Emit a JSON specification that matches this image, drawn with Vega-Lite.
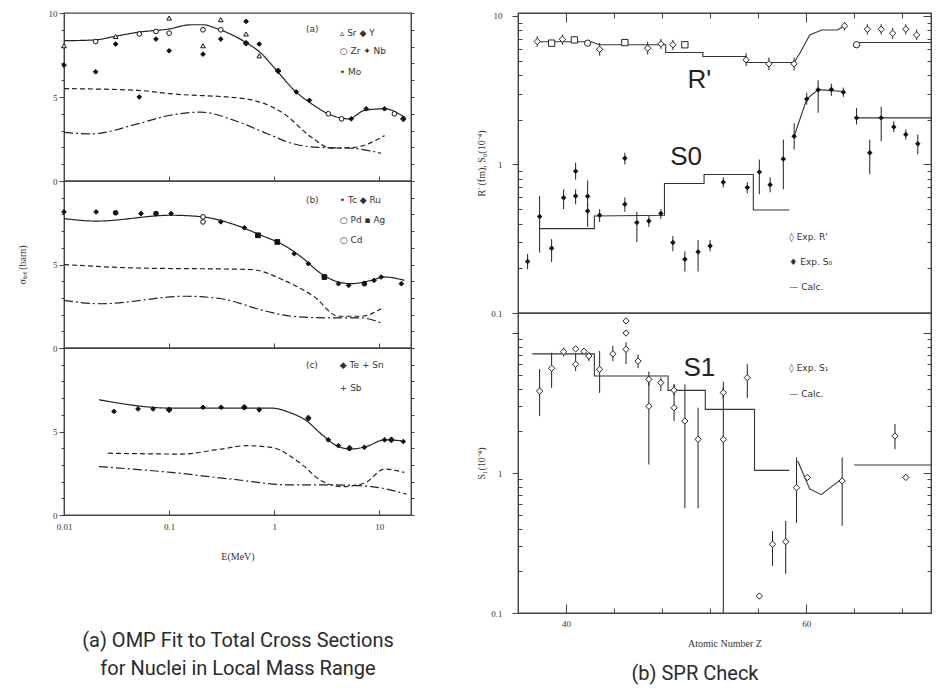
{
"$schema": "https://vega.github.io/schema/vega-lite/v6.json",
"background": "white",
"padding": {"left": 16, "top": 8, "right": 5, "bottom": 2},
"config": {
  "view": {"stroke": "#444", "strokeWidth": 1.3},
  "axis": {"labelFont": "Liberation Serif", "labelFontSize": 9, "labelColor": "#333", "titleFont": "Liberation Serif", "titleFontSize": 10, "titleFontWeight": "normal", "titleColor": "#333", "domainColor": "#444", "tickColor": "#444", "grid": false, "labelPadding": 2, "labelOverlap": false, "labelFlush": false},
  "title": {"font": "Roboto", "fontWeight": "normal", "color": "#2a2a2a"}
},
"spacing": 60,
"datasets": {
"A": [
{"p":"a","k":"c","sr":"t","E":0.01,"s":8.35},{"p":"a","k":"c","sr":"t","E":0.02,"s":8.4},{"p":"a","k":"c","sr":"t","E":0.03,"s":8.6},{"p":"a","k":"c","sr":"t","E":0.05,"s":8.85},{"p":"a","k":"c","sr":"t","E":0.1,"s":9.05},{"p":"a","k":"c","sr":"t","E":0.16,"s":9.3},{"p":"a","k":"c","sr":"t","E":0.21,"s":9.3},{"p":"a","k":"c","sr":"t","E":0.29,"s":9.05},{"p":"a","k":"c","sr":"t","E":0.52,"s":8.3},{"p":"a","k":"c","sr":"t","E":0.75,"s":7.6},{"p":"a","k":"c","sr":"t","E":1.0,"s":6.75},{"p":"a","k":"c","sr":"t","E":1.55,"s":5.4},{"p":"a","k":"c","sr":"t","E":2.26,"s":4.6},{"p":"a","k":"c","sr":"t","E":3.27,"s":4.0},{"p":"a","k":"c","sr":"t","E":5.1,"s":3.7},{"p":"a","k":"c","sr":"t","E":7.2,"s":4.2},{"p":"a","k":"c","sr":"t","E":11.2,"s":4.3},{"p":"a","k":"c","sr":"t","E":17.3,"s":3.8},
{"p":"a","k":"c","sr":"d","E":0.01,"s":5.5},{"p":"a","k":"c","sr":"d","E":0.05,"s":5.4},{"p":"a","k":"c","sr":"d","E":0.1,"s":5.2},{"p":"a","k":"c","sr":"d","E":0.52,"s":4.9},{"p":"a","k":"c","sr":"d","E":1.24,"s":4.0},{"p":"a","k":"c","sr":"d","E":2.26,"s":2.6},{"p":"a","k":"c","sr":"d","E":3.5,"s":1.95},{"p":"a","k":"c","sr":"d","E":5.8,"s":2.0},{"p":"a","k":"c","sr":"d","E":11.2,"s":2.7},
{"p":"a","k":"c","sr":"dd","E":0.01,"s":2.9},{"p":"a","k":"c","sr":"dd","E":0.018,"s":2.8},{"p":"a","k":"c","sr":"dd","E":0.05,"s":3.4},{"p":"a","k":"c","sr":"dd","E":0.1,"s":3.9},{"p":"a","k":"c","sr":"dd","E":0.2,"s":4.1},{"p":"a","k":"c","sr":"dd","E":0.42,"s":3.6},{"p":"a","k":"c","sr":"dd","E":0.87,"s":2.8},{"p":"a","k":"c","sr":"dd","E":1.55,"s":2.2},{"p":"a","k":"c","sr":"dd","E":2.64,"s":2.0},{"p":"a","k":"c","sr":"dd","E":5.4,"s":1.95},{"p":"a","k":"c","sr":"dd","E":10.4,"s":1.65},
{"p":"a","k":"p","n":"Y","f":"b","E":0.01,"s":6.9},{"p":"a","k":"p","n":"Sr","f":"o","E":0.01,"s":8.05},{"p":"a","k":"p","n":"Y","f":"b","E":0.02,"s":6.5},{"p":"a","k":"p","n":"Zr","f":"o","E":0.02,"s":8.3},{"p":"a","k":"p","n":"Sr","f":"o","E":0.031,"s":8.6},{"p":"a","k":"p","n":"Y","f":"b","E":0.031,"s":8.15},{"p":"a","k":"p","n":"Zr","f":"o","E":0.052,"s":8.75},{"p":"a","k":"p","n":"Y","f":"b","E":0.052,"s":5.0},{"p":"a","k":"p","n":"Zr","f":"o","E":0.075,"s":8.9},{"p":"a","k":"p","n":"Y","f":"b","E":0.075,"s":8.45},{"p":"a","k":"p","n":"Zr","f":"o","E":0.1,"s":8.8},{"p":"a","k":"p","n":"Y","f":"b","E":0.1,"s":7.75},{"p":"a","k":"p","n":"Sr","f":"o","E":0.1,"s":9.7},{"p":"a","k":"p","n":"Zr","f":"o","E":0.21,"s":9.0},{"p":"a","k":"p","n":"Y","f":"b","E":0.21,"s":7.55},{"p":"a","k":"p","n":"Sr","f":"o","E":0.21,"s":8.05},{"p":"a","k":"p","n":"Zr","f":"o","E":0.31,"s":9.0},{"p":"a","k":"p","n":"Y","f":"b","E":0.31,"s":8.45},{"p":"a","k":"p","n":"Sr","f":"o","E":0.31,"s":9.6},{"p":"a","k":"p","n":"Y","f":"b","E":0.54,"s":9.5},{"p":"a","k":"p","n":"Sr","f":"o","E":0.54,"s":8.75},{"p":"a","k":"p","n":"Nb","f":"b","E":0.54,"s":8.2},{"p":"a","k":"p","n":"Y","f":"b","E":0.72,"s":8.15},{"p":"a","k":"p","n":"Sr","f":"o","E":0.72,"s":7.45},{"p":"a","k":"p","n":"Nb","f":"b","E":1.09,"s":6.55},{"p":"a","k":"p","n":"Y","f":"b","E":1.62,"s":5.3},{"p":"a","k":"p","n":"Y","f":"b","E":2.16,"s":4.8},{"p":"a","k":"p","n":"Zr","f":"o","E":3.27,"s":4.0},{"p":"a","k":"p","n":"Zr","f":"o","E":4.37,"s":3.7},{"p":"a","k":"p","n":"Y","f":"b","E":5.4,"s":3.7},{"p":"a","k":"p","n":"Y","f":"b","E":7.5,"s":4.3},{"p":"a","k":"p","n":"Y","f":"b","E":11.2,"s":4.3},{"p":"a","k":"p","n":"Zr","f":"o","E":13.9,"s":4.0},{"p":"a","k":"p","n":"Nb","f":"b","E":16.9,"s":3.7},
{"p":"a","k":"l","E":2.0,"s":9.05,"txt":"(a)"},{"p":"a","k":"l","E":4.2,"s":8.8,"txt":"▵ Sr   ◆ Y"},{"p":"a","k":"l","E":4.2,"s":7.75,"txt":"○ Zr   ✦ Nb"},{"p":"a","k":"l","E":4.2,"s":6.5,"txt":"• Mo"},
{"p":"b","k":"c","sr":"t","E":0.01,"s":7.75},{"p":"b","k":"c","sr":"t","E":0.0202,"s":7.6},{"p":"b","k":"c","sr":"t","E":0.1045,"s":7.95},{"p":"b","k":"c","sr":"t","E":0.21,"s":7.85},{"p":"b","k":"c","sr":"t","E":0.39,"s":7.45},{"p":"b","k":"c","sr":"t","E":0.75,"s":6.75},{"p":"b","k":"c","sr":"t","E":1.24,"s":6.15},{"p":"b","k":"c","sr":"t","E":1.81,"s":5.45},{"p":"b","k":"c","sr":"t","E":2.8,"s":4.45},{"p":"b","k":"c","sr":"t","E":4.08,"s":3.95},{"p":"b","k":"c","sr":"t","E":5.4,"s":3.85},{"p":"b","k":"c","sr":"t","E":8.4,"s":4.05},{"p":"b","k":"c","sr":"t","E":11.2,"s":4.25},{"p":"b","k":"c","sr":"t","E":17.3,"s":4.05},
{"p":"b","k":"c","sr":"d","E":0.01,"s":5.0},{"p":"b","k":"c","sr":"d","E":0.043,"s":4.8},{"p":"b","k":"c","sr":"d","E":0.6,"s":4.7},{"p":"b","k":"c","sr":"d","E":1.24,"s":4.05},{"p":"b","k":"c","sr":"d","E":2.42,"s":3.05},{"p":"b","k":"c","sr":"d","E":4.08,"s":1.9},{"p":"b","k":"c","sr":"d","E":6.7,"s":1.9},{"p":"b","k":"c","sr":"d","E":10.4,"s":2.35},
{"p":"b","k":"c","sr":"dd","E":0.01,"s":2.85},{"p":"b","k":"c","sr":"dd","E":0.0225,"s":2.65},{"p":"b","k":"c","sr":"dd","E":0.145,"s":3.1},{"p":"b","k":"c","sr":"dd","E":0.313,"s":2.95},{"p":"b","k":"c","sr":"dd","E":0.84,"s":2.2},{"p":"b","k":"c","sr":"dd","E":1.45,"s":1.9},{"p":"b","k":"c","sr":"dd","E":3.5,"s":1.8},{"p":"b","k":"c","sr":"dd","E":6.7,"s":1.8},{"p":"b","k":"c","sr":"dd","E":10.4,"s":1.5},
{"p":"b","k":"p","n":"Ru","f":"b","E":0.01,"s":8.15},{"p":"b","k":"p","n":"Ru","f":"b","E":0.0202,"s":8.15},{"p":"b","k":"p","n":"Tc","f":"b","E":0.031,"s":8.1},{"p":"b","k":"p","n":"Ru","f":"b","E":0.054,"s":8.05},{"p":"b","k":"p","n":"Tc","f":"b","E":0.075,"s":8.05},{"p":"b","k":"p","n":"Ru","f":"b","E":0.1045,"s":8.05},{"p":"b","k":"p","n":"Pd","f":"o","E":0.21,"s":7.85},{"p":"b","k":"p","n":"Cd","f":"o","E":0.21,"s":7.55},{"p":"b","k":"p","n":"Ru","f":"b","E":0.31,"s":7.55},{"p":"b","k":"p","n":"Ru","f":"b","E":0.52,"s":7.2},{"p":"b","k":"p","n":"Ag","f":"b","E":0.7,"s":6.75},{"p":"b","k":"p","n":"Ag","f":"b","E":1.07,"s":6.35},{"p":"b","k":"p","n":"Ru","f":"b","E":1.55,"s":5.65},{"p":"b","k":"p","n":"Ru","f":"b","E":2.11,"s":5.05},{"p":"b","k":"p","n":"Ag","f":"b","E":3.0,"s":4.25},{"p":"b","k":"p","n":"Ru","f":"b","E":4.08,"s":3.85},{"p":"b","k":"p","n":"Ru","f":"b","E":5.1,"s":3.75},{"p":"b","k":"p","n":"Tc","f":"b","E":7.2,"s":3.85},{"p":"b","k":"p","n":"Ru","f":"b","E":8.9,"s":4.05},{"p":"b","k":"p","n":"Ru","f":"b","E":10.4,"s":4.25},{"p":"b","k":"p","n":"Ru","f":"b","E":16.2,"s":3.85},
{"p":"b","k":"l","E":2.0,"s":8.85,"txt":"(b)"},{"p":"b","k":"l","E":4.2,"s":8.85,"txt":"• Tc   ◆ Ru"},{"p":"b","k":"l","E":4.2,"s":7.65,"txt":"○ Pd   ▪ Ag"},{"p":"b","k":"l","E":4.2,"s":6.45,"txt":"○ Cd"},
{"p":"c","k":"c","sr":"t","E":0.0215,"s":6.9},{"p":"c","k":"c","sr":"t","E":0.1045,"s":6.4},{"p":"c","k":"c","sr":"t","E":0.935,"s":6.4},{"p":"c","k":"c","sr":"t","E":1.45,"s":6.1},{"p":"c","k":"c","sr":"t","E":2.02,"s":5.65},{"p":"c","k":"c","sr":"t","E":2.8,"s":4.85},{"p":"c","k":"c","sr":"t","E":4.08,"s":4.1},{"p":"c","k":"c","sr":"t","E":5.4,"s":3.95},{"p":"c","k":"c","sr":"t","E":7.5,"s":4.1},{"p":"c","k":"c","sr":"t","E":11.2,"s":4.5},{"p":"c","k":"c","sr":"t","E":16.2,"s":4.45},
{"p":"c","k":"c","sr":"d","E":0.0262,"s":3.7},{"p":"c","k":"c","sr":"d","E":0.13,"s":3.65},{"p":"c","k":"c","sr":"d","E":0.313,"s":3.95},{"p":"c","k":"c","sr":"d","E":0.54,"s":4.15},{"p":"c","k":"c","sr":"d","E":0.935,"s":4.05},{"p":"c","k":"c","sr":"d","E":1.81,"s":3.05},{"p":"c","k":"c","sr":"d","E":2.8,"s":2.05},{"p":"c","k":"c","sr":"d","E":4.37,"s":1.7},{"p":"c","k":"c","sr":"d","E":7.2,"s":1.9},{"p":"c","k":"c","sr":"d","E":11.2,"s":2.75},{"p":"c","k":"c","sr":"d","E":17.3,"s":2.55},
{"p":"c","k":"c","sr":"dd","E":0.0215,"s":2.9},{"p":"c","k":"c","sr":"dd","E":0.1045,"s":2.55},{"p":"c","k":"c","sr":"dd","E":0.389,"s":2.15},{"p":"c","k":"c","sr":"dd","E":1.45,"s":1.8},{"p":"c","k":"c","sr":"dd","E":3.9,"s":1.8},{"p":"c","k":"c","sr":"dd","E":8.4,"s":1.7},{"p":"c","k":"c","sr":"dd","E":18.1,"s":1.25},
{"p":"c","k":"p","n":"Te","f":"b","E":0.0299,"s":6.2},{"p":"c","k":"p","n":"Te","f":"b","E":0.0506,"s":6.35},{"p":"c","k":"p","n":"Te","f":"b","E":0.0703,"s":6.35},{"p":"c","k":"p","n":"Sn","f":"b","E":0.1,"s":6.3},{"p":"c","k":"p","n":"Te","f":"b","E":0.21,"s":6.45},{"p":"c","k":"p","n":"Te","f":"b","E":0.313,"s":6.45},{"p":"c","k":"p","n":"Sb","f":"b","E":0.519,"s":6.45},{"p":"c","k":"p","n":"Te","f":"b","E":0.72,"s":6.3},{"p":"c","k":"p","n":"Sn","f":"b","E":2.11,"s":5.8},{"p":"c","k":"p","n":"Te","f":"b","E":3.27,"s":4.5},{"p":"c","k":"p","n":"Te","f":"b","E":4.08,"s":4.15},{"p":"c","k":"p","n":"Sb","f":"b","E":5.2,"s":4.0},{"p":"c","k":"p","n":"Te","f":"b","E":7.2,"s":4.05},{"p":"c","k":"p","n":"Te","f":"b","E":11.2,"s":4.5},{"p":"c","k":"p","n":"Sn","f":"b","E":13.0,"s":4.5},{"p":"c","k":"p","n":"Te","f":"b","E":16.9,"s":4.4},
{"p":"c","k":"l","E":2.0,"s":9.0,"txt":"(c)"},{"p":"c","k":"l","E":4.2,"s":9.0,"txt":"◆ Te   + Sn"},{"p":"c","k":"l","E":4.2,"s":7.6,"txt":"+ Sb"}
],
"RT": [
{"k":"r","Z":37.6,"v":6.73,"lo":6.2,"hi":7.3,"sh":"diamond"},{"k":"r","Z":38.8,"v":6.56,"sh":"square"},{"k":"r","Z":39.7,"v":6.97,"lo":6.4,"hi":7.5,"sh":"diamond"},{"k":"r","Z":40.7,"v":6.9,"sh":"square"},{"k":"r","Z":41.8,"v":6.56,"sh":"circle"},{"k":"r","Z":42.8,"v":5.97,"lo":5.4,"hi":6.6,"sh":"diamond"},{"k":"r","Z":44.9,"v":6.62,"sh":"square"},{"k":"r","Z":46.8,"v":6.07,"lo":5.5,"hi":6.7,"sh":"diamond"},{"k":"r","Z":47.9,"v":6.49,"lo":6.0,"hi":7.0,"sh":"diamond"},{"k":"r","Z":48.9,"v":6.4,"lo":5.9,"hi":6.9,"sh":"diamond"},{"k":"r","Z":49.9,"v":6.4,"sh":"square"},{"k":"r","Z":55,"v":5.07,"lo":4.6,"hi":5.6,"sh":"diamond"},{"k":"r","Z":56.9,"v":4.76,"lo":4.3,"hi":5.25,"sh":"diamond"},{"k":"r","Z":59,"v":4.76,"lo":4.3,"hi":5.25,"sh":"diamond"},{"k":"r","Z":63.2,"v":8.57,"lo":8.0,"hi":9.1,"sh":"diamond"},{"k":"r","Z":64.2,"v":6.4,"sh":"circle"},{"k":"r","Z":65.1,"v":8.14,"lo":7.5,"hi":8.8,"sh":"diamond"},{"k":"r","Z":66.25,"v":8.14,"lo":7.5,"hi":8.8,"sh":"diamond"},{"k":"r","Z":67.2,"v":7.65,"lo":7.0,"hi":8.3,"sh":"diamond"},{"k":"r","Z":68.3,"v":8.14,"lo":7.5,"hi":8.8,"sh":"diamond"},{"k":"r","Z":69.2,"v":7.45,"lo":6.9,"hi":8.1,"sh":"diamond"},
{"k":"s","Z":36.8,"v":0.222,"lo":0.197,"hi":0.25},{"k":"s","Z":37.8,"v":0.446,"lo":0.255,"hi":0.613},{"k":"s","Z":38.8,"v":0.273,"lo":0.22,"hi":0.314},{"k":"s","Z":39.8,"v":0.597,"lo":0.5,"hi":0.68},{"k":"s","Z":40.8,"v":0.613,"lo":0.54,"hi":0.68},{"k":"s","Z":40.8,"v":0.9,"lo":0.79,"hi":1.03},{"k":"s","Z":41.8,"v":0.61,"lo":0.52,"hi":0.78},{"k":"s","Z":41.8,"v":0.486,"lo":0.38,"hi":0.55},{"k":"s","Z":42.8,"v":0.455,"lo":0.41,"hi":0.5},{"k":"s","Z":44.9,"v":0.539,"lo":0.48,"hi":0.6},{"k":"s","Z":44.9,"v":1.1,"lo":1.0,"hi":1.2},{"k":"s","Z":45.9,"v":0.406,"lo":0.3,"hi":0.48},{"k":"s","Z":46.9,"v":0.416,"lo":0.38,"hi":0.45},{"k":"s","Z":47.9,"v":0.467,"lo":0.43,"hi":0.5},{"k":"s","Z":48.9,"v":0.298,"lo":0.26,"hi":0.33},{"k":"s","Z":49.9,"v":0.23,"lo":0.19,"hi":0.26},{"k":"s","Z":51,"v":0.258,"lo":0.19,"hi":0.31},{"k":"s","Z":52,"v":0.283,"lo":0.26,"hi":0.31},{"k":"s","Z":53.1,"v":0.76,"lo":0.7,"hi":0.82},{"k":"s","Z":55.1,"v":0.7,"lo":0.64,"hi":0.76},{"k":"s","Z":56.1,"v":0.89,"lo":0.63,"hi":1.08},{"k":"s","Z":57,"v":0.73,"lo":0.65,"hi":0.82},{"k":"s","Z":58.1,"v":1.09,"lo":0.68,"hi":1.47},{"k":"s","Z":59,"v":1.55,"lo":1.26,"hi":1.9},{"k":"s","Z":60.05,"v":2.76,"lo":2.53,"hi":3.04},{"k":"s","Z":61,"v":3.19,"lo":2.23,"hi":3.7},{"k":"s","Z":62.1,"v":3.2,"lo":2.9,"hi":3.5},{"k":"s","Z":63.1,"v":3.06,"lo":2.85,"hi":3.3},{"k":"s","Z":64.2,"v":2.06,"lo":1.86,"hi":2.4},{"k":"s","Z":65.3,"v":1.2,"lo":0.86,"hi":1.47},{"k":"s","Z":66.25,"v":2.06,"lo":1.43,"hi":2.45},{"k":"s","Z":67.3,"v":1.79,"lo":1.65,"hi":1.95},{"k":"s","Z":68.3,"v":1.59,"lo":1.47,"hi":1.72},{"k":"s","Z":69.3,"v":1.38,"lo":1.17,"hi":1.59},
{"k":"c","g":"r1","i":1,"Z":37.6,"v":6.7},{"k":"c","g":"r1","i":2,"Z":42.1,"v":6.7},{"k":"c","g":"r1","i":3,"Z":42.8,"v":6.4},{"k":"c","g":"r1","i":4,"Z":48.3,"v":6.4},{"k":"c","g":"r1","i":5,"Z":48.3,"v":5.67},{"k":"c","g":"r1","i":6,"Z":51.4,"v":5.67},{"k":"c","g":"r1","i":7,"Z":51.4,"v":5.33},{"k":"c","g":"r1","i":8,"Z":55,"v":5.33},{"k":"c","g":"r1","i":9,"Z":55,"v":4.86},{"k":"c","g":"r1","i":10,"Z":59,"v":4.86},{"k":"c","g":"r1","i":11,"Z":59.5,"v":5.65},{"k":"c","g":"r1","i":12,"Z":60.3,"v":7.45},{"k":"c","g":"r1","i":13,"Z":61.3,"v":8.05},{"k":"c","g":"r1","i":14,"Z":62.6,"v":8.05},{"k":"c","g":"r1","i":15,"Z":63.2,"v":8.6},
{"k":"c","g":"r2","i":1,"Z":64.2,"v":6.62},{"k":"c","g":"r2","i":2,"Z":70.4,"v":6.62},
{"k":"c","g":"s1","i":1,"Z":37.8,"v":0.37},{"k":"c","g":"s1","i":2,"Z":42.36,"v":0.37},{"k":"c","g":"s1","i":3,"Z":42.36,"v":0.45},{"k":"c","g":"s1","i":4,"Z":48.2,"v":0.455},{"k":"c","g":"s1","i":5,"Z":48.2,"v":0.745},{"k":"c","g":"s1","i":6,"Z":51.5,"v":0.745},{"k":"c","g":"s1","i":7,"Z":51.5,"v":0.857},{"k":"c","g":"s1","i":8,"Z":55.6,"v":0.857},{"k":"c","g":"s1","i":9,"Z":55.6,"v":0.494},{"k":"c","g":"s1","i":10,"Z":58.6,"v":0.494},
{"k":"c","g":"s2","i":1,"Z":59,"v":1.55},{"k":"c","g":"s2","i":2,"Z":60.05,"v":2.76},{"k":"c","g":"s2","i":3,"Z":61,"v":3.19},{"k":"c","g":"s2","i":4,"Z":63.1,"v":3.1},
{"k":"c","g":"s3","i":1,"Z":64.2,"v":2.06},{"k":"c","g":"s3","i":2,"Z":70.4,"v":2.06},
{"k":"b","Z":51.1,"v":3.7,"txt":"R'"},{"k":"b","Z":50.0,"v":1.13,"txt":"S0"},
{"k":"l","Z":58.6,"v":0.324,"txt":"◊ Exp. R'"},{"k":"l","Z":58.6,"v":0.22,"txt":"♦ Exp. S₀"},{"k":"l","Z":58.6,"v":0.149,"txt":"— Calc."}
],
"RB": [
{"k":"p","Z":37.8,"v":3.85,"lo":2.55,"hi":5.53},{"k":"p","Z":38.8,"v":5.6,"lo":4.06,"hi":7.24},{"k":"p","Z":39.8,"v":7.35,"lo":6.8,"hi":7.9},{"k":"p","Z":40.8,"v":5.98,"lo":5.35,"hi":7.1},{"k":"p","Z":40.8,"v":7.7},{"k":"p","Z":41.5,"v":7.4},{"k":"p","Z":41.9,"v":6.85,"lo":6.3,"hi":7.3},{"k":"p","Z":42.8,"v":5.5,"lo":3.74,"hi":7.44},{"k":"p","Z":43.9,"v":7.1,"lo":6.3,"hi":8.1},{"k":"p","Z":45,"v":7.65,"lo":6.0,"hi":8.6},{"k":"p","Z":45,"v":10.0},{"k":"p","Z":45,"v":12.2},{"k":"p","Z":46,"v":6.3,"lo":5.6,"hi":7.0},{"k":"p","Z":46.9,"v":4.67,"lo":4.2,"hi":5.3},{"k":"p","Z":46.9,"v":3.0,"lo":1.15,"hi":4.67},{"k":"p","Z":47.9,"v":4.42,"lo":3.85,"hi":4.8},{"k":"p","Z":49,"v":3.9,"lo":3.6,"hi":4.3},{"k":"p","Z":49,"v":2.93,"lo":2.35,"hi":4.3},{"k":"p","Z":49.9,"v":2.35,"lo":0.56,"hi":4.3},{"k":"p","Z":51,"v":1.74,"lo":0.56,"hi":2.93},{"k":"p","Z":53.1,"v":3.75,"lo":3.4,"hi":4.1},{"k":"p","Z":53.1,"v":1.74,"lo":0.1,"hi":4.5},{"k":"p","Z":55.1,"v":4.8,"lo":3.43,"hi":6.0},{"k":"p","Z":56.1,"v":0.132},{"k":"p","Z":57.2,"v":0.31,"lo":0.217,"hi":0.385},{"k":"p","Z":58.3,"v":0.323,"lo":0.19,"hi":0.455},{"k":"p","Z":59.2,"v":0.785,"lo":0.44,"hi":1.29},{"k":"p","Z":60.1,"v":0.93},{"k":"p","Z":63,"v":0.877,"lo":0.42,"hi":1.29},{"k":"p","Z":67.4,"v":1.84,"lo":1.48,"hi":2.24},{"k":"p","Z":68.3,"v":0.93},
{"k":"c","g":"t1","i":1,"Z":37.2,"v":7.1},{"k":"c","g":"t1","i":2,"Z":42.36,"v":7.1},{"k":"c","g":"t1","i":3,"Z":42.36,"v":4.93},{"k":"c","g":"t1","i":4,"Z":48.5,"v":4.93},{"k":"c","g":"t1","i":5,"Z":48.5,"v":3.89},{"k":"c","g":"t1","i":6,"Z":51.6,"v":3.89},{"k":"c","g":"t1","i":7,"Z":51.6,"v":2.85},{"k":"c","g":"t1","i":8,"Z":55.7,"v":2.85},{"k":"c","g":"t1","i":9,"Z":55.7,"v":1.045},{"k":"c","g":"t1","i":10,"Z":58.6,"v":1.045},
{"k":"c","g":"t2","i":1,"Z":59.3,"v":1.22},{"k":"c","g":"t2","i":2,"Z":60.3,"v":0.77},{"k":"c","g":"t2","i":3,"Z":61.25,"v":0.7},{"k":"c","g":"t2","i":4,"Z":62.2,"v":0.81},{"k":"c","g":"t2","i":5,"Z":62.9,"v":0.9},
{"k":"c","g":"t3","i":1,"Z":64,"v":1.14},{"k":"c","g":"t3","i":2,"Z":70.4,"v":1.14},
{"k":"b","Z":51.1,"v":5.6,"txt":"S1"},
{"k":"l","Z":58.6,"v":5.65,"txt":"◊ Exp. S₁"},{"k":"l","Z":58.6,"v":3.65,"txt":"— Calc."}
]
},
"hconcat": [
{
 "data": {"name": "A"},
 "title": {"text": ["(a) OMP Fit to Total Cross Sections", "\u00a0\u00a0\u00a0\u00a0for Nuclei in Local Mass Range"], "orient": "bottom", "anchor": "middle", "fontSize": 20, "lineHeight": 28, "offset": 69, "dx": 22},
 "spacing": 0,
 "bounds": "flush",
 "vconcat": [
  {
   "width": 347, "height": 168,
   "transform": [{"filter": "datum.p=='a'"}],
   "resolve": {"axis": {"y": "independent"}},
   "layer": [
    {"transform": [{"filter": "datum.k=='c'"}],
     "mark": {"type": "line", "interpolate": "monotone", "color": "#222", "strokeWidth": 1.2},
     "encoding": {
      "x": {"field": "E", "type": "quantitative", "scale": {"type": "log", "domain": [0.01, 20], "nice": false}, "axis": {"values": [0.01, 0.1, 1, 10], "labels": false, "title": null, "tickSize": -5}},
      "y": {"field": "s", "type": "quantitative", "scale": {"domain": [0, 10], "nice": false}, "axis": {"values": [0,1,2,3,4,5,6,7,8,9,10], "labelExpr": "datum.value % 5 == 0 ? '' + datum.value : ''", "title": null, "tickSize": {"condition": {"test": "datum.value % 5 == 0", "value": 5}, "value": 3}}},
      "strokeDash": {"field": "sr", "type": "nominal", "scale": {"domain": ["t", "d", "dd"], "range": [[1, 0], [5, 3], [9, 3, 2, 3]]}, "legend": null},
      "detail": {"field": "sr"}
     }},
    {"transform": [{"filter": "datum.k=='p'"}],
     "mark": {"type": "point", "size": 22, "strokeWidth": 1, "opacity": 1, "stroke": "#111"},
     "encoding": {
      "x": {"field": "E", "type": "quantitative"},
      "y": {"field": "s", "type": "quantitative", "axis": {"orient": "right", "labels": false, "title": null, "values": [0,1,2,3,4,5,6,7,8,9,10], "tickSize": 3}},
      "shape": {"field": "n", "type": "nominal", "scale": {"domain": ["Sr","Y","Zr","Nb","Mo","Tc","Ru","Pd","Ag","Cd","Te","Sn","Sb"], "range": ["triangle-up","diamond","circle","cross","circle","circle","diamond","circle","square","circle","diamond","cross","cross"]}, "legend": null},
      "fill": {"field": "f", "type": "nominal", "scale": {"domain": ["b", "o"], "range": ["#111", "white"]}, "legend": null}
     }},
    {"transform": [{"filter": "datum.k=='l'"}],
     "mark": {"type": "text", "align": "left", "baseline": "middle", "fontSize": 9, "font": "DejaVu Sans", "color": "#333"},
     "encoding": {
      "x": {"field": "E", "type": "quantitative"},
      "y": {"field": "s", "type": "quantitative", "axis": null},
      "text": {"field": "txt"}
     }}
   ]
  },
  {
   "width": 347, "height": 167,
   "transform": [{"filter": "datum.p=='b'"}],
   "resolve": {"axis": {"y": "independent"}},
   "layer": [
    {"transform": [{"filter": "datum.k=='c'"}],
     "mark": {"type": "line", "interpolate": "monotone", "color": "#222", "strokeWidth": 1.2},
     "encoding": {
      "x": {"field": "E", "type": "quantitative", "scale": {"type": "log", "domain": [0.01, 20], "nice": false}, "axis": {"values": [0.01, 0.1, 1, 10], "labels": false, "title": null, "tickSize": -5}},
      "y": {"field": "s", "type": "quantitative", "scale": {"domain": [0, 10], "nice": false}, "axis": {"values": [0,1,2,3,4,5,6,7,8,9,10], "labelExpr": "datum.value == 0 || datum.value == 5 ? '' + datum.value : ''", "title": "σₜₒₜ (barn)", "titlePadding": 25, "tickSize": {"condition": {"test": "datum.value % 5 == 0", "value": 5}, "value": 3}}},
      "strokeDash": {"field": "sr", "type": "nominal", "scale": {"domain": ["t", "d", "dd"], "range": [[1, 0], [5, 3], [9, 3, 2, 3]]}, "legend": null},
      "detail": {"field": "sr"}
     }},
    {"transform": [{"filter": "datum.k=='p'"}],
     "mark": {"type": "point", "size": 22, "strokeWidth": 1, "opacity": 1, "stroke": "#111"},
     "encoding": {
      "x": {"field": "E", "type": "quantitative"},
      "y": {"field": "s", "type": "quantitative", "axis": {"orient": "right", "labels": false, "title": null, "values": [0,1,2,3,4,5,6,7,8,9,10], "tickSize": 3}},
      "shape": {"field": "n", "type": "nominal", "scale": {"domain": ["Sr","Y","Zr","Nb","Mo","Tc","Ru","Pd","Ag","Cd","Te","Sn","Sb"], "range": ["triangle-up","diamond","circle","cross","circle","circle","diamond","circle","square","circle","diamond","cross","cross"]}, "legend": null},
      "fill": {"field": "f", "type": "nominal", "scale": {"domain": ["b", "o"], "range": ["#111", "white"]}, "legend": null}
     }},
    {"transform": [{"filter": "datum.k=='l'"}],
     "mark": {"type": "text", "align": "left", "baseline": "middle", "fontSize": 9, "font": "DejaVu Sans", "color": "#333"},
     "encoding": {
      "x": {"field": "E", "type": "quantitative"},
      "y": {"field": "s", "type": "quantitative", "axis": null},
      "text": {"field": "txt"}
     }}
   ]
  },
  {
   "width": 347, "height": 167,
   "transform": [{"filter": "datum.p=='c'"}],
   "resolve": {"axis": {"y": "independent"}},
   "layer": [
    {"transform": [{"filter": "datum.k=='c'"}],
     "mark": {"type": "line", "interpolate": "monotone", "color": "#222", "strokeWidth": 1.2},
     "encoding": {
      "x": {"field": "E", "type": "quantitative", "scale": {"type": "log", "domain": [0.01, 20], "nice": false}, "axis": {"values": [0.01, 0.1, 1, 10], "labelExpr": "'' + datum.value", "title": "E(MeV)", "tickSize": -5, "labelPadding": 12, "titlePadding": 20}},
      "y": {"field": "s", "type": "quantitative", "scale": {"domain": [0, 10], "nice": false}, "axis": {"values": [0,1,2,3,4,5,6,7,8,9,10], "labelExpr": "datum.value == 0 || datum.value == 5 ? '' + datum.value : ''", "title": null, "tickSize": {"condition": {"test": "datum.value % 5 == 0", "value": 5}, "value": 3}}},
      "strokeDash": {"field": "sr", "type": "nominal", "scale": {"domain": ["t", "d", "dd"], "range": [[1, 0], [5, 3], [9, 3, 2, 3]]}, "legend": null},
      "detail": {"field": "sr"}
     }},
    {"transform": [{"filter": "datum.k=='p'"}],
     "mark": {"type": "point", "size": 22, "strokeWidth": 1, "opacity": 1, "stroke": "#111"},
     "encoding": {
      "x": {"field": "E", "type": "quantitative"},
      "y": {"field": "s", "type": "quantitative", "axis": {"orient": "right", "labels": false, "title": null, "values": [0,1,2,3,4,5,6,7,8,9,10], "tickSize": 3}},
      "shape": {"field": "n", "type": "nominal", "scale": {"domain": ["Sr","Y","Zr","Nb","Mo","Tc","Ru","Pd","Ag","Cd","Te","Sn","Sb"], "range": ["triangle-up","diamond","circle","cross","circle","circle","diamond","circle","square","circle","diamond","cross","cross"]}, "legend": null},
      "fill": {"field": "f", "type": "nominal", "scale": {"domain": ["b", "o"], "range": ["#111", "white"]}, "legend": null}
     }},
    {"transform": [{"filter": "datum.k=='l'"}],
     "mark": {"type": "text", "align": "left", "baseline": "middle", "fontSize": 9, "font": "DejaVu Sans", "color": "#333"},
     "encoding": {
      "x": {"field": "E", "type": "quantitative"},
      "y": {"field": "s", "type": "quantitative", "axis": null},
      "text": {"field": "txt"}
     }}
   ]
  }
 ]
},
{
 "title": {"text": "(b) SPR Check", "orient": "bottom", "anchor": "middle", "fontSize": 20, "offset": 15, "dx": -10},
 "spacing": 0,
 "bounds": "flush",
 "vconcat": [
  {
   "width": 413, "height": 300,
   "data": {"name": "RT"},
   "resolve": {"axis": {"y": "independent"}},
   "layer": [
    {"transform": [{"filter": "isValid(datum.lo)"}],
     "mark": {"type": "rule", "color": "#222", "strokeWidth": 1},
     "encoding": {
      "x": {"field": "Z", "type": "quantitative", "scale": {"domain": [36, 70.4], "nice": false}, "axis": {"orient": "top", "labels": false, "title": null, "values": [36,38,40,42,44,46,48,50,52,54,56,58,60,62,64,66,68,70], "tickSize": {"condition": {"test": "datum.value % 10 == 0", "value": -9}, "value": -5}}},
      "y": {"field": "lo", "type": "quantitative", "scale": {"type": "log", "domain": [0.1, 10.47], "nice": false}, "axis": {"values": [0.1,0.2,0.3,0.4,0.5,0.6,0.7,0.8,0.9,1,2,3,4,5,6,7,8,9,10], "labelExpr": "datum.value == 0.1 || datum.value == 1 || datum.value == 10 ? '' + datum.value : ''", "title": "R' (fm), S₀(10⁻⁴)", "titlePadding": 4, "labelPadding": 10, "tickSize": {"condition": {"test": "datum.value == 0.1 || datum.value == 1 || datum.value == 10", "value": 6}, "value": -4}}},
      "y2": {"field": "hi"}
     }},
    {"transform": [{"filter": "datum.k=='c'"}],
     "mark": {"type": "line", "color": "#333", "strokeWidth": 1.1},
     "encoding": {
      "x": {"field": "Z", "type": "quantitative"},
      "y": {"field": "v", "type": "quantitative", "axis": {"orient": "right", "labels": false, "title": null, "values": [0.1,0.2,0.3,0.4,0.5,0.6,0.7,0.8,0.9,1,2,3,4,5,6,7,8,9,10], "tickSize": {"condition": {"test": "datum.value == 0.1 || datum.value == 1 || datum.value == 10", "value": -8}, "value": -4}}},
      "detail": {"field": "g"},
      "order": {"field": "i", "type": "quantitative"}
     }},
    {"transform": [{"filter": "datum.k=='r'"}],
     "mark": {"type": "point", "size": 40, "strokeWidth": 1, "opacity": 1, "stroke": "#222", "fill": "white", "filled": false},
     "encoding": {
      "x": {"field": "Z", "type": "quantitative"},
      "y": {"field": "v", "type": "quantitative", "axis": null},
      "shape": {"field": "sh", "type": "nominal", "scale": null}
     }},
    {"transform": [{"filter": "datum.k=='s'"}],
     "mark": {"type": "point", "shape": "diamond", "size": 30, "filled": true, "opacity": 1, "color": "#111"},
     "encoding": {
      "x": {"field": "Z", "type": "quantitative"},
      "y": {"field": "v", "type": "quantitative", "axis": null}
     }},
    {"transform": [{"filter": "datum.k=='b'"}],
     "mark": {"type": "text", "align": "center", "baseline": "middle", "fontSize": 26, "font": "Liberation Sans Narrow, Liberation Sans", "color": "#222"},
     "encoding": {
      "x": {"field": "Z", "type": "quantitative"},
      "y": {"field": "v", "type": "quantitative", "axis": null},
      "text": {"field": "txt"}
     }},
    {"transform": [{"filter": "datum.k=='l'"}],
     "mark": {"type": "text", "align": "left", "baseline": "middle", "fontSize": 9, "font": "DejaVu Sans", "color": "#333"},
     "encoding": {
      "x": {"field": "Z", "type": "quantitative"},
      "y": {"field": "v", "type": "quantitative", "axis": null},
      "text": {"field": "txt"}
     }}
   ]
  },
  {
   "width": 413, "height": 300,
   "data": {"name": "RB"},
   "resolve": {"axis": {"y": "independent"}},
   "layer": [
    {"transform": [{"filter": "isValid(datum.lo)"}],
     "mark": {"type": "rule", "color": "#222", "strokeWidth": 1},
     "encoding": {
      "x": {"field": "Z", "type": "quantitative", "scale": {"domain": [36, 70.4], "nice": false}, "axis": {"values": [36,38,40,42,44,46,48,50,52,54,56,58,60,62,64,66,68,70], "labelExpr": "datum.value % 10 == 0 ? '' + datum.value : ''", "title": "Atomic  Number  Z", "labelPadding": 15, "titlePadding": 6, "tickSize": {"condition": {"test": "datum.value % 10 == 0", "value": -9}, "value": -5}}},
      "y": {"field": "lo", "type": "quantitative", "scale": {"type": "log", "domain": [0.1, 13.9], "nice": false}, "axis": {"values": [0.1,0.2,0.3,0.4,0.5,0.6,0.7,0.8,0.9,1,2,3,4,5,6,7,8,9,10], "labelExpr": "datum.value == 0.1 || datum.value == 1 ? '' + datum.value : ''", "title": "S₁(10⁻⁴)", "titlePadding": 4, "labelPadding": 10, "tickSize": {"condition": {"test": "datum.value == 0.1 || datum.value == 1 || datum.value == 10", "value": 6}, "value": -4}}},
      "y2": {"field": "hi"}
     }},
    {"transform": [{"filter": "datum.k=='c'"}],
     "mark": {"type": "line", "color": "#333", "strokeWidth": 1.1},
     "encoding": {
      "x": {"field": "Z", "type": "quantitative"},
      "y": {"field": "v", "type": "quantitative", "axis": {"orient": "right", "labels": false, "title": null, "values": [0.1,0.2,0.3,0.4,0.5,0.6,0.7,0.8,0.9,1,2,3,4,5,6,7,8,9,10], "tickSize": {"condition": {"test": "datum.value == 0.1 || datum.value == 1 || datum.value == 10", "value": -8}, "value": -4}}},
      "detail": {"field": "g"},
      "order": {"field": "i", "type": "quantitative"}
     }},
    {"transform": [{"filter": "datum.k=='p'"}],
     "mark": {"type": "point", "shape": "diamond", "size": 40, "strokeWidth": 1, "opacity": 1, "stroke": "#222", "fill": "white", "filled": false},
     "encoding": {
      "x": {"field": "Z", "type": "quantitative"},
      "y": {"field": "v", "type": "quantitative", "axis": null}
     }},
    {"transform": [{"filter": "datum.k=='b'"}],
     "mark": {"type": "text", "align": "center", "baseline": "middle", "fontSize": 26, "font": "Liberation Sans Narrow, Liberation Sans", "color": "#222"},
     "encoding": {
      "x": {"field": "Z", "type": "quantitative"},
      "y": {"field": "v", "type": "quantitative", "axis": null},
      "text": {"field": "txt"}
     }},
    {"transform": [{"filter": "datum.k=='l'"}],
     "mark": {"type": "text", "align": "left", "baseline": "middle", "fontSize": 9, "font": "DejaVu Sans", "color": "#333"},
     "encoding": {
      "x": {"field": "Z", "type": "quantitative"},
      "y": {"field": "v", "type": "quantitative", "axis": null},
      "text": {"field": "txt"}
     }}
   ]
  }
 ]
}
]
}
